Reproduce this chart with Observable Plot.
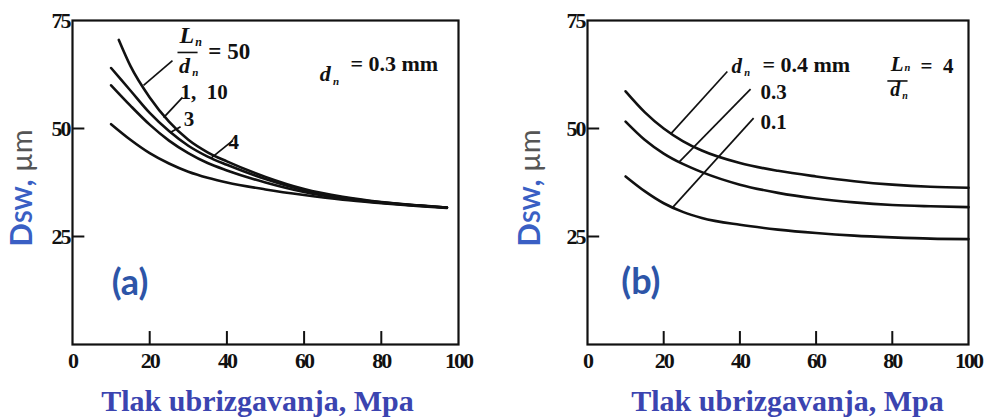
<!DOCTYPE html>
<html><head><meta charset="utf-8">
<script src="https://cdn.jsdelivr.net/npm/d3@7"></script>
<script src="https://cdn.jsdelivr.net/npm/@observablehq/plot@0.6"></script>
<style>
html,body{margin:0;padding:0;background:#fff;}
#wrap{position:relative;width:984px;height:418px;overflow:hidden;background:#fff;}
#a,#b{position:absolute;top:0;}
#a{left:0;} #b{left:492px;}
svg g[aria-label="x-axis tick label"] text, svg g[aria-label="y-axis tick label"] text{letter-spacing:-2px;}
</style></head><body><div id="wrap"><div id="a"></div><div id="b"></div></div>
<script>
// ---------- data ----------
const xTickLabels = [0, 20, 40, 60, 80, 100];
const xTickMarks = [20, 40, 60, 80];
const yTickLabels = [25, 50, 75];
const yTickMarks = [25, 50];

// Panel (a): d_n = 0.3 mm, varying L_n/d_n
const pressA_top = [12, 15, 20, 25, 30, 35, 40, 50, 60, 70, 80, 90, 97];
const pressA = [10, 15, 20, 25, 30, 35, 40, 50, 60, 70, 80, 90, 97];
const ld50 = [70.5, 64.5, 57.2, 51.6, 47.4, 44.5, 42.4, 38.8, 36.0, 34.2, 33.0, 32.2, 31.7];
const ld1_10 = [64.0, 58.8, 53.6, 49.4, 46.0, 43.5, 41.6, 38.3, 35.7, 34.0, 32.9, 32.1, 31.7];
const ld3 = [60.0, 55.3, 50.9, 47.2, 44.3, 42.0, 40.3, 37.5, 35.3, 33.8, 32.8, 32.1, 31.7];
const ld4 = [51.0, 47.4, 44.3, 41.9, 40.0, 38.6, 37.5, 35.9, 34.6, 33.5, 32.7, 32.0, 31.6];

// Panel (b): L_n/d_n = 4, varying d_n
const pressB = [10, 15, 20, 25, 30, 40, 50, 60, 70, 80, 90, 100];
const dn04 = [58.6, 53.8, 50.0, 47.1, 44.9, 42.0, 40.2, 38.9, 37.8, 37.0, 36.5, 36.3];
const dn03 = [51.6, 47.4, 44.2, 41.8, 39.9, 37.0, 35.1, 33.8, 32.9, 32.3, 32.0, 31.8];
const dn01 = [38.9, 35.5, 32.7, 30.7, 29.3, 27.7, 26.6, 25.8, 25.2, 24.8, 24.5, 24.4];

// annotation leaders [x1, y1, x2, y2] in data units
const leadersA = [[25.9, 65.7, 18.4, 60.0], [28.5, 57.2, 23.6, 52.5], [28.0, 50.4, 25.2, 49.0], [41.5, 47.2, 35.8, 43.1]];
const leadersB = [[36.7, 63.2, 21.8, 48.7], [42.8, 59.1, 23.9, 42.1], [43.6, 52.4, 22.3, 31.7]];

const xTitle = "Tlak ubrizgavanja, Mpa";

// ---------- helpers ----------
const serif = "Liberation Serif";
const sans = "Lato";
const toRows = (name, xs, ys) => xs.map((x, i) => ({s: name, x, y: ys[i]}));
const toLinks = (arr) => arr.map(([x1, y1, x2, y2]) => ({x1, y1, x2, y2}));

function addYTitle(svg, x, y) {
  const t = d3.select(svg).append("text")
    .attr("transform", `translate(${x},${y}) rotate(-90)`)
    .attr("text-anchor", "middle")
    .attr("font-family", sans)
    .attr("font-weight", "bold")
    .attr("fill", "#3A5FC4");
  t.append("tspan").attr("font-size", 31).text("D");
  t.append("tspan").attr("font-size", 23).text("SW");
  t.append("tspan").attr("font-size", 30).text(",\u00a0");
  t.append("tspan").attr("font-size", 29).attr("fill", "#555").attr("font-weight", "normal").text("µm");
}

function basePanel({marginLeft, marginRight, series, leaders, extra, titleDx, tag}) {
  return Plot.plot({
    width: 492, height: 418,
    marginLeft, marginRight, marginTop: 20, marginBottom: 74,
    x: {domain: [0, 100]},
    y: {domain: [0, 75]},
    style: {background: "transparent", color: "#111"},
    marks: [
      Plot.frame({stroke: "#111", strokeWidth: 2.2}),
      Plot.axisX(xTickLabels, {tickSize: 0, tickPadding: 8, label: null, fontSize: 22, fontFamily: serif, fontWeight: "bold", fill: "#111"}),
      Plot.axisY(yTickLabels, {tickSize: 0, tickPadding: 3, label: null, fontSize: 22, fontFamily: serif, fontWeight: "bold", fill: "#111"}),
      Plot.ruleX(xTickMarks, {y1: 0, y2: 3, stroke: "#111", strokeWidth: 2}),
      Plot.ruleY(yTickMarks, {x1: 0, x2: 3.2, stroke: "#111", strokeWidth: 2}),
      Plot.line(series, {x: "x", y: "y", z: "s", curve: "monotone-x", stroke: "#111", strokeWidth: 2.6}),
      Plot.link(toLinks(leaders), {x1: "x1", y1: "y1", x2: "x2", y2: "y2", stroke: "#111", strokeWidth: 1.7}),
      ...extra,
      Plot.text([tag.text], {x: tag.x, y: tag.y, text: d => d, fontSize: 36, fontFamily: sans, fontWeight: "bold", fill: "#2D55A8", lineAnchor: "middle"}),
      Plot.text([xTitle], {frameAnchor: "bottom", text: d => d, dy: 66, dx: titleDx, lineAnchor: "bottom", fontSize: 30, fontFamily: serif, fontWeight: "bold", fill: "#3B44B0"})
    ]
  });
}

// italic letter with subscript n
function sym(letter, x, y, size, subDy = 0.15) {
  return [
    Plot.text([letter], {x, y, text: d => d, fontSize: size, fontFamily: serif, fontStyle: "italic", fontWeight: "bold", textAnchor: "middle", lineAnchor: "bottom", fill: "#111"}),
    Plot.text(["n"], {x, y, text: d => d, dx: size * 0.35, dy: size * subDy, fontSize: size * 0.5, fontFamily: serif, fontStyle: "italic", fontWeight: "bold", textAnchor: "start", lineAnchor: "bottom", fill: "#111"})
  ];
}
function plain(str, x, y, size) {
  return Plot.text([str], {x, y, text: d => d, fontSize: size, fontFamily: serif, fontWeight: "bold", textAnchor: "start", lineAnchor: "middle", fill: "#111"});
}

// ---------- panel (a) ----------
const seriesA = [
  ...toRows("50", pressA_top, ld50),
  ...toRows("1,10", pressA, ld1_10),
  ...toRows("3", pressA, ld3),
  ...toRows("4", pressA, ld4)
];
const extraA = [
  ...sym("L", 29.6, 69.9, 24),
  Plot.link([{x1: 27.2, x2: 32.4, y: 67.6}], {x1: "x1", x2: "x2", y1: "y", y2: "y", stroke: "#111", strokeWidth: 1.6}),
  ...sym("d", 29.0, 62.9, 22),
  plain("=\u00a050", 35.2, 67.8, 23),
  plain("1,\u00a0\u00a010", 28.0, 58.4, 21),
  plain("3", 28.8, 52.2, 21),
  plain("4", 40.4, 46.9, 21),
  ...sym("d", 65.5, 60.9, 22),
  plain("=\u00a00.3\u00a0mm", 72.0, 65.0, 22)
];
const svgA = basePanel({marginLeft: 72, marginRight: 34, series: seriesA, leaders: leadersA, extra: extraA, titleDx: -8, tag: {text: "(a)", x: 14.9, y: 14.1}});
addYTitle(svgA, 32, 188);
document.getElementById("a").appendChild(svgA);

// ---------- panel (b) ----------
const seriesB = [
  ...toRows("0.4", pressB, dn04),
  ...toRows("0.3", pressB, dn03),
  ...toRows("0.1", pressB, dn01)
];
const extraB = [
  ...sym("d", 39.2, 62.8, 21),
  plain("=\u00a00.4\u00a0mm", 45.9, 64.8, 22),
  plain("0.3", 45.4, 58.3, 21),
  plain("0.1", 45.4, 51.5, 21),
  ...sym("L", 81.3, 63.2, 21, -0.02),
  Plot.link([{x1: 78.7, x2: 84.0, y: 61.0}], {x1: "x1", x2: "x2", y1: "y", y2: "y", stroke: "#111", strokeWidth: 1.6}),
  ...sym("d", 80.8, 57.6, 20),
  plain("=\u00a0\u00a04", 87.4, 64.4, 21)
];
const svgB = basePanel({marginLeft: 95, marginRight: 16, series: seriesB, leaders: leadersB, extra: extraB, titleDx: 9.5, tag: {text: "(b)", x: 14.0, y: 14.4}});
addYTitle(svgB, 48, 188);
document.getElementById("b").appendChild(svgB);
</script>
</body></html>
